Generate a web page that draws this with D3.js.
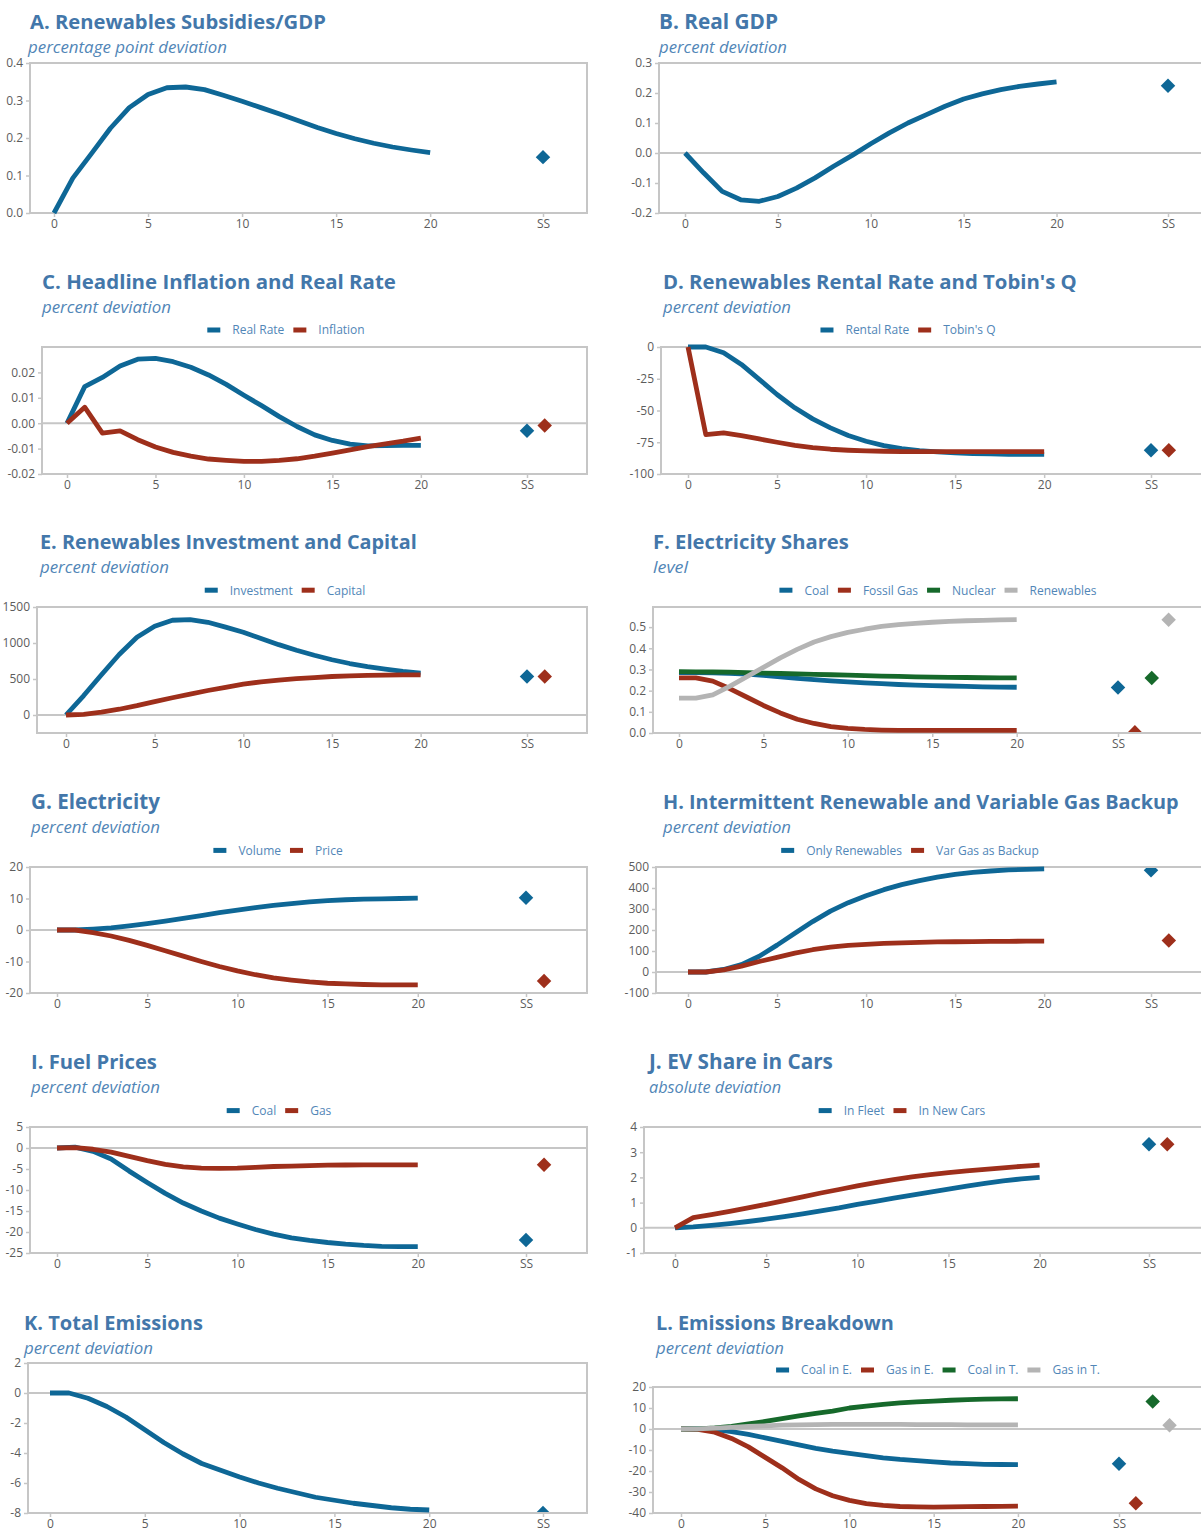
<!DOCTYPE html>
<html><head><meta charset="utf-8">
<script src="https://cdn.jsdelivr.net/npm/d3@7"></script>
<style>body{margin:0;background:#fff;} svg{display:block;}</style>
</head><body><svg id="c" width="1201" height="1531"></svg>
<script>
// ---------- DATA (horizon 0..20, plus steady state "SS") ----------
const years = d3.range(0, 21);
const xTickValues = [0, 5, 10, 15, 20];
const ssLabel = "SS";

// A. Renewables Subsidies/GDP
const subsidiesGDP = [0.0,0.093,0.159,0.226,0.281,0.316,0.334,0.336,0.329,0.314,0.298,0.281,0.264,0.246,0.228,0.212,0.198,0.186,0.176,0.168,0.161];
const subsidiesGDP_SS = 0.149;
// B. Real GDP
const realGDP = [0,-0.066,-0.128,-0.156,-0.161,-0.145,-0.117,-0.083,-0.044,-0.008,0.031,0.067,0.1,0.128,0.156,0.18,0.197,0.211,0.222,0.23,0.237];
const realGDP_SS = 0.224;
// C. Headline Inflation and Real Rate
const realRate = [0,0.0144,0.018,0.0225,0.0252,0.0255,0.0242,0.022,0.019,0.0153,0.011,0.0069,0.0026,-0.0013,-0.0046,-0.0068,-0.0082,-0.0089,-0.0088,-0.0087,-0.0087];
const inflation = [0,0.0063,-0.0039,-0.003,-0.0065,-0.0094,-0.0115,-0.013,-0.0141,-0.0146,-0.015,-0.015,-0.0146,-0.014,-0.013,-0.0118,-0.0105,-0.0092,-0.0081,-0.0071,-0.0059];
const realRate_SS = -0.003, inflation_SS = -0.0009;
// D. Renewables Rental Rate and Tobin's Q
const rentalRate = [0,0,-4.5,-13.7,-25.5,-37.4,-47.9,-56.6,-63.7,-69.7,-74.2,-77.6,-80,-81.6,-82.6,-83.4,-83.9,-84.2,-84.5,-84.5,-84.5];
const tobinsQ = [0,-69,-67.6,-69.7,-72.4,-75,-77.4,-79.2,-80.5,-81.3,-81.8,-82.1,-82.4,-82.4,-82.4,-82.4,-82.4,-82.4,-82.4,-82.4,-82.4];
const rentalRate_SS = -81.3, tobinsQ_SS = -81.3;
// E. Renewables Investment and Capital
const investment = [0,270,560,840,1080,1232,1316,1325,1288,1220,1149,1063,977,900,830,767,715,672,637,605,581];
const capital = [0,10,40,80,130,186,240,290,340,385,428,460,485,505,520,535,543,549,553,556,558];
const investment_SS = 535, capital_SS = 535;
// F. Electricity Shares
const coalShare = [0.285,0.285,0.284,0.282,0.278,0.272,0.265,0.258,0.252,0.246,0.241,0.237,0.233,0.229,0.226,0.224,0.222,0.22,0.218,0.217,0.216];
const gasShare = [0.26,0.26,0.245,0.21,0.17,0.13,0.095,0.065,0.045,0.03,0.022,0.017,0.014,0.012,0.012,0.012,0.012,0.012,0.012,0.012,0.012];
const nuclearShare = [0.29,0.289,0.288,0.287,0.285,0.283,0.281,0.279,0.277,0.275,0.273,0.271,0.269,0.267,0.265,0.264,0.263,0.262,0.261,0.26,0.26];
const renewShare = [0.165,0.165,0.18,0.22,0.265,0.31,0.355,0.395,0.43,0.455,0.475,0.49,0.503,0.512,0.518,0.523,0.527,0.53,0.532,0.534,0.535];
const coalShare_SS = 0.215, gasShare_SS = 0.003, nuclearShare_SS = 0.26, renewShare_SS = 0.535;
// G. Electricity
const elecVolume = [0,0,0.3,0.7,1.3,2.0,2.8,3.7,4.6,5.5,6.3,7.1,7.8,8.4,8.9,9.3,9.6,9.8,9.9,10.0,10.1];
const elecPrice = [0,0,-0.8,-1.9,-3.3,-4.9,-6.6,-8.3,-10.0,-11.6,-13.0,-14.2,-15.2,-15.9,-16.5,-16.9,-17.1,-17.3,-17.4,-17.4,-17.4];
const elecVolume_SS = 10.2, elecPrice_SS = -16.2;
// H. Intermittent Renewable and Variable Gas Backup
const onlyRenewables = [0,0,12,35,75,128,185,240,290,330,363,392,416,435,452,465,474,481,486,489,491];
const varGasBackup = [0,0,10,28,50,70,90,106,118,127,132,136,139,141,143,144,145,146,146,147,147];
const onlyRenewables_SS = 484, varGasBackup_SS = 150;
// I. Fuel Prices
const coalPrice = [0,0.2,-0.8,-2.6,-5.5,-8.2,-10.8,-13.1,-15.0,-16.7,-18.1,-19.4,-20.5,-21.4,-22.0,-22.5,-22.9,-23.2,-23.4,-23.5,-23.5];
const gasPrice = [0,0.1,-0.3,-1.0,-2.0,-3.0,-3.9,-4.5,-4.8,-4.85,-4.8,-4.6,-4.4,-4.3,-4.2,-4.1,-4.05,-4.0,-4.0,-4.0,-4.0];
const coalPrice_SS = -21.9, gasPrice_SS = -4.0;
// J. EV Share in Cars
const evFleet = [0,0.04,0.1,0.17,0.25,0.34,0.44,0.55,0.67,0.79,0.93,1.05,1.18,1.3,1.42,1.53,1.65,1.76,1.86,1.94,2.0];
const evNewCars = [0,0.4,0.52,0.65,0.79,0.93,1.08,1.23,1.38,1.52,1.66,1.79,1.91,2.02,2.11,2.19,2.26,2.32,2.38,2.44,2.49];
const evFleet_SS = 3.32, evNewCars_SS = 3.32;
// K. Total Emissions
const totalEmissions = [0,0,-0.35,-0.9,-1.6,-2.45,-3.3,-4.05,-4.7,-5.15,-5.6,-6.0,-6.35,-6.65,-6.95,-7.15,-7.35,-7.5,-7.65,-7.75,-7.8];
const totalEmissions_SS = -8.0;
// L. Emissions Breakdown
const coalInE = [0,0,-0.3,-1.2,-2.6,-4.2,-5.9,-7.6,-9.2,-10.5,-11.6,-12.7,-13.7,-14.5,-15.1,-15.7,-16.2,-16.5,-16.8,-16.9,-17.0];
const gasInE = [0,-0.2,-1.5,-4.5,-8.5,-13.5,-18.5,-24,-28.5,-31.8,-34.0,-35.5,-36.4,-36.9,-37.1,-37.2,-37.1,-37.0,-36.9,-36.8,-36.7];
const coalInT = [0,0.1,0.5,1.3,2.4,3.6,4.9,6.2,7.4,8.5,10.0,10.9,11.7,12.4,12.9,13.3,13.7,14.0,14.2,14.3,14.4];
const gasInT = [0,0.1,0.4,0.8,1.2,1.5,1.8,2.0,2.1,2.2,2.2,2.2,2.2,2.2,2.1,2.1,2.1,2.0,2.0,2.0,2.0];
const coalInE_SS = -16.6, gasInE_SS = -35.4, coalInT_SS = 13.1, gasInT_SS = 1.8;

// ---------- STYLE ----------
const BLUE = "#0e6796", RED = "#9e2f1b", GREEN = "#16692b", GRAY = "#b4b4b4";
const TITLE_C = "#4377aa", SUB_C = "#5186b7", LEG_C = "#5186b7", AXIS_C = "#c6c6c6", TICK_C = "#5c5c5c";
const FONT = "'Open Sans', 'Noto Sans', sans-serif";
const hyph = f => (d => f(d).replace("\u2212", "-"));

const ROW = 260.2;
const panels = [
  {title:"A. Renewables Subsidies/GDP", tw:296, sub:"percentage point deviation", sw:199, subX:28, row:0, tx:30,
   box:[30,587,63,213], x0:54, xSS:543, yDomain:[0,0.4], yTicks:[0,0.1,0.2,0.3,0.4], fmt:hyph(d3.format(".1f")),
   series:[{name:"", color:BLUE, v:subsidiesGDP, ss:subsidiesGDP_SS}], legend:null},
  {title:"B. Real GDP", tw:119, sub:"percent deviation", sw:128, row:0, tx:659,
   box:[659,1215,63,213], x0:685, xSS:1168, yDomain:[-0.2,0.3], yTicks:[-0.2,-0.1,0,0.1,0.2,0.3], fmt:hyph(d3.format(".1f")),
   series:[{name:"", color:BLUE, v:realGDP, ss:realGDP_SS}], legend:null},
  {title:"C. Headline Inflation and Real Rate", tw:354, sub:"percent deviation", sw:129, row:1, tx:42,
   box:[42,587,347,474], x0:67, xSS:527, yDomain:[-0.02,0.03], yTicks:[-0.02,-0.01,0,0.01,0.02], fmt:hyph(d3.format(".2f")),
   series:[{name:"Real Rate", color:BLUE, v:realRate, ss:realRate_SS},{name:"Inflation", color:RED, v:inflation, ss:inflation_SS}], legend:286},
  {title:"D. Renewables Rental Rate and Tobin's Q", tw:414, sub:"percent deviation", sw:128, row:1, tx:663,
   box:[661,1215,347,474], x0:688, xSS:1151, yDomain:[-100,0], yTicks:[-100,-75,-50,-25,0], fmt:hyph(d3.format("d")),
   series:[{name:"Rental Rate", color:BLUE, v:rentalRate, ss:rentalRate_SS},{name:"Tobin's Q", color:RED, v:tobinsQ, ss:tobinsQ_SS}], legend:908},
  {title:"E. Renewables Investment and Capital", tw:377, sub:"percent deviation", sw:129, row:2, tx:40,
   box:[37,587,607,733], x0:66, xSS:527, yDomain:[-250,1500], yTicks:[0,500,1000,1500], fmt:hyph(d3.format("d")),
   series:[{name:"Investment", color:BLUE, v:investment, ss:investment_SS},{name:"Capital", color:RED, v:capital, ss:capital_SS}], legend:285},
  {title:"F. Electricity Shares", tw:196, sub:"level", sw:35, row:2, tx:653,
   box:[653,1215,607,733], x0:679, xSS:1118, yDomain:[0,0.595], yTicks:[0,0.1,0.2,0.3,0.4,0.5], fmt:hyph(d3.format(".1f")),
   series:[{name:"Coal", color:BLUE, v:coalShare, ss:coalShare_SS},{name:"Fossil Gas", color:RED, v:gasShare, ss:gasShare_SS},
           {name:"Nuclear", color:GREEN, v:nuclearShare, ss:nuclearShare_SS},{name:"Renewables", color:GRAY, v:renewShare, ss:renewShare_SS}], legend:938},
  {title:"G. Electricity", tw:129, sub:"percent deviation", sw:129, row:3, tx:31,
   box:[30,587,867,993], x0:57, xSS:526, yDomain:[-20,20], yTicks:[-20,-10,0,10,20], fmt:hyph(d3.format("d")),
   series:[{name:"Volume", color:BLUE, v:elecVolume, ss:elecVolume_SS},{name:"Price", color:RED, v:elecPrice, ss:elecPrice_SS}], legend:278},
  {title:"H. Intermittent Renewable and Variable Gas Backup", tw:516, sub:"percent deviation", sw:128, row:3, tx:663,
   box:[656,1215,867,993], x0:688, xSS:1151, yDomain:[-100,500], yTicks:[-100,0,100,200,300,400,500], fmt:hyph(d3.format("d")),
   series:[{name:"Only Renewables", color:BLUE, v:onlyRenewables, ss:onlyRenewables_SS},{name:"Var Gas as Backup", color:RED, v:varGasBackup, ss:varGasBackup_SS}], legend:910},
  {title:"I. Fuel Prices", tw:126, sub:"percent deviation", sw:129, row:4, tx:31,
   box:[30,587,1127,1253], x0:57, xSS:526, yDomain:[-25,5], yTicks:[-25,-20,-15,-10,-5,0,5], fmt:hyph(d3.format("d")),
   series:[{name:"Coal", color:BLUE, v:coalPrice, ss:coalPrice_SS},{name:"Gas", color:RED, v:gasPrice, ss:gasPrice_SS}], legend:279},
  {title:"J. EV Share in Cars", tw:184, sub:"absolute deviation", sw:132, row:4, tx:649,
   box:[644,1215,1127,1253], x0:675, xSS:1149, yDomain:[-1,4], yTicks:[-1,0,1,2,3,4], fmt:hyph(d3.format("d")),
   series:[{name:"In Fleet", color:BLUE, v:evFleet, ss:evFleet_SS},{name:"In New Cars", color:RED, v:evNewCars, ss:evNewCars_SS}], legend:902},
  {title:"K. Total Emissions", tw:179, sub:"percent deviation", sw:129, row:5, tx:24,
   box:[28,587,1363,1513], x0:50, xSS:543, yDomain:[-8,2], yTicks:[-8,-6,-4,-2,0,2], fmt:hyph(d3.format("d")),
   series:[{name:"", color:BLUE, v:totalEmissions, ss:totalEmissions_SS}], legend:null},
  {title:"L. Emissions Breakdown", tw:238, sub:"percent deviation", sw:128, row:5, tx:656,
   box:[653,1215,1387,1513], x0:681, xSS:1119, yDomain:[-40,20], yTicks:[-40,-30,-20,-10,0,10,20], fmt:hyph(d3.format("d")),
   series:[{name:"Coal in E.", color:BLUE, v:coalInE, ss:coalInE_SS},{name:"Gas in E.", color:RED, v:gasInE, ss:gasInE_SS},
           {name:"Coal in T.", color:GREEN, v:coalInT, ss:coalInT_SS},{name:"Gas in T.", color:GRAY, v:gasInT, ss:gasInT_SS}], legend:938}
];

const svg = d3.select("#c");
const defs = svg.append("defs");
const diamond = d3.symbol(d3.symbolSquare, 105);

panels.forEach((p, pi) => {
  const g = svg.append("g");
  const [L, R, T, B] = p.box;
  const yOff = p.row * ROW;
  // title: shrink the font where the natural width is wider than the reference, stretch otherwise
  const tt = g.append("text").attr("x", p.tx).attr("y", 28.5 + yOff).text(p.title)
    .attr("font-family", FONT).attr("font-weight", 700).attr("font-size", 21).attr("fill", TITLE_C);
  const nat = tt.node().getComputedTextLength();
  if (nat > p.tw) {
    tt.attr("font-size", 21 * p.tw / nat);
  } else {
    tt.attr("textLength", p.tw).attr("lengthAdjust", "spacingAndGlyphs");
  }
  const st = g.append("text").attr("x", p.subX || p.tx).attr("y", 52.5 + yOff).text(p.sub)
    .attr("font-family", FONT).attr("font-style", "italic").attr("font-size", 16).attr("fill", SUB_C);
  const snat = st.node().getComputedTextLength();
  if (snat > p.sw) st.attr("font-size", 16 * p.sw / snat);
  else st.attr("textLength", p.sw).attr("lengthAdjust", "spacingAndGlyphs");

  const x = d3.scaleLinear().domain([0, 26]).range([p.x0, p.xSS]);
  const y = d3.scaleLinear().domain(p.yDomain).range([B, T]);

  // y axis
  const ya = g.append("g").attr("transform", `translate(${L},0)`)
    .call(d3.axisLeft(y).tickValues(p.yTicks).tickFormat(p.fmt).tickSize(4).tickPadding(3));
  ya.select(".domain").remove();
  ya.selectAll("line").attr("stroke", AXIS_C).attr("stroke-width", 1.5);
  ya.selectAll("text").attr("fill", TICK_C).attr("font-family", FONT).attr("font-size", 12);
  // x axis
  const xa = g.append("g").attr("transform", `translate(0,${B})`)
    .call(d3.axisBottom(x).tickValues(xTickValues.concat([26])).tickFormat(d => d === 26 ? ssLabel : d).tickSize(4).tickPadding(2));
  xa.select(".domain").remove();
  xa.selectAll("line").attr("stroke", AXIS_C).attr("stroke-width", 1.5);
  xa.selectAll("text").attr("fill", TICK_C).attr("font-family", FONT).attr("font-size", 12);

  // frame
  g.append("rect").attr("x", L).attr("y", T).attr("width", R - L).attr("height", B - T)
    .attr("fill", "none").attr("stroke", AXIS_C).attr("stroke-width", 2);
  if (p.yDomain[0] < 0 && p.yDomain[1] > 0) {
    g.append("line").attr("x1", L).attr("x2", R).attr("y1", y(0)).attr("y2", y(0))
      .attr("stroke", AXIS_C).attr("stroke-width", 2);
  }

  // clip
  const cid = "clip" + pi;
  defs.append("clipPath").attr("id", cid).append("rect")
    .attr("x", L + 1).attr("y", T + 1).attr("width", R - L - 2).attr("height", B - T - 2);

  const line = d3.line().x((d, i) => x(years[i])).y(d => y(d));
  p.series.forEach(s => {
    g.append("path").datum(s.v).attr("d", line).attr("fill", "none")
      .attr("stroke", s.color).attr("stroke-width", 4.8).attr("stroke-linejoin", "round");
  });
  const dg = g.append("g").attr("clip-path", `url(#${cid})`);
  p.series.forEach((s, si) => {
    dg.append("path").attr("d", diamond())
      .attr("transform", `translate(${x(26 + si)},${y(s.ss)}) rotate(45)`)
      .attr("fill", s.color);
  });

  // legend
  if (p.legend !== null) {
    const lg = g.append("g");
    let cx = 0;
    p.series.forEach(s => {
      lg.append("rect").attr("x", cx).attr("y", -2.5).attr("width", 13).attr("height", 5).attr("fill", s.color);
      const t = lg.append("text").attr("x", cx + 25).attr("y", 4.3).text(s.name)
        .attr("font-family", FONT).attr("font-size", 12).attr("fill", LEG_C);
      cx += 25 + t.node().getComputedTextLength() + 9;
    });
    cx -= 9;
    const legY = (p.row === 5) ? 1370 : 330 + (p.row - 1) * ROW;
    lg.attr("transform", `translate(${p.legend - cx / 2},${legY})`);
  }
});
</script></body></html>
